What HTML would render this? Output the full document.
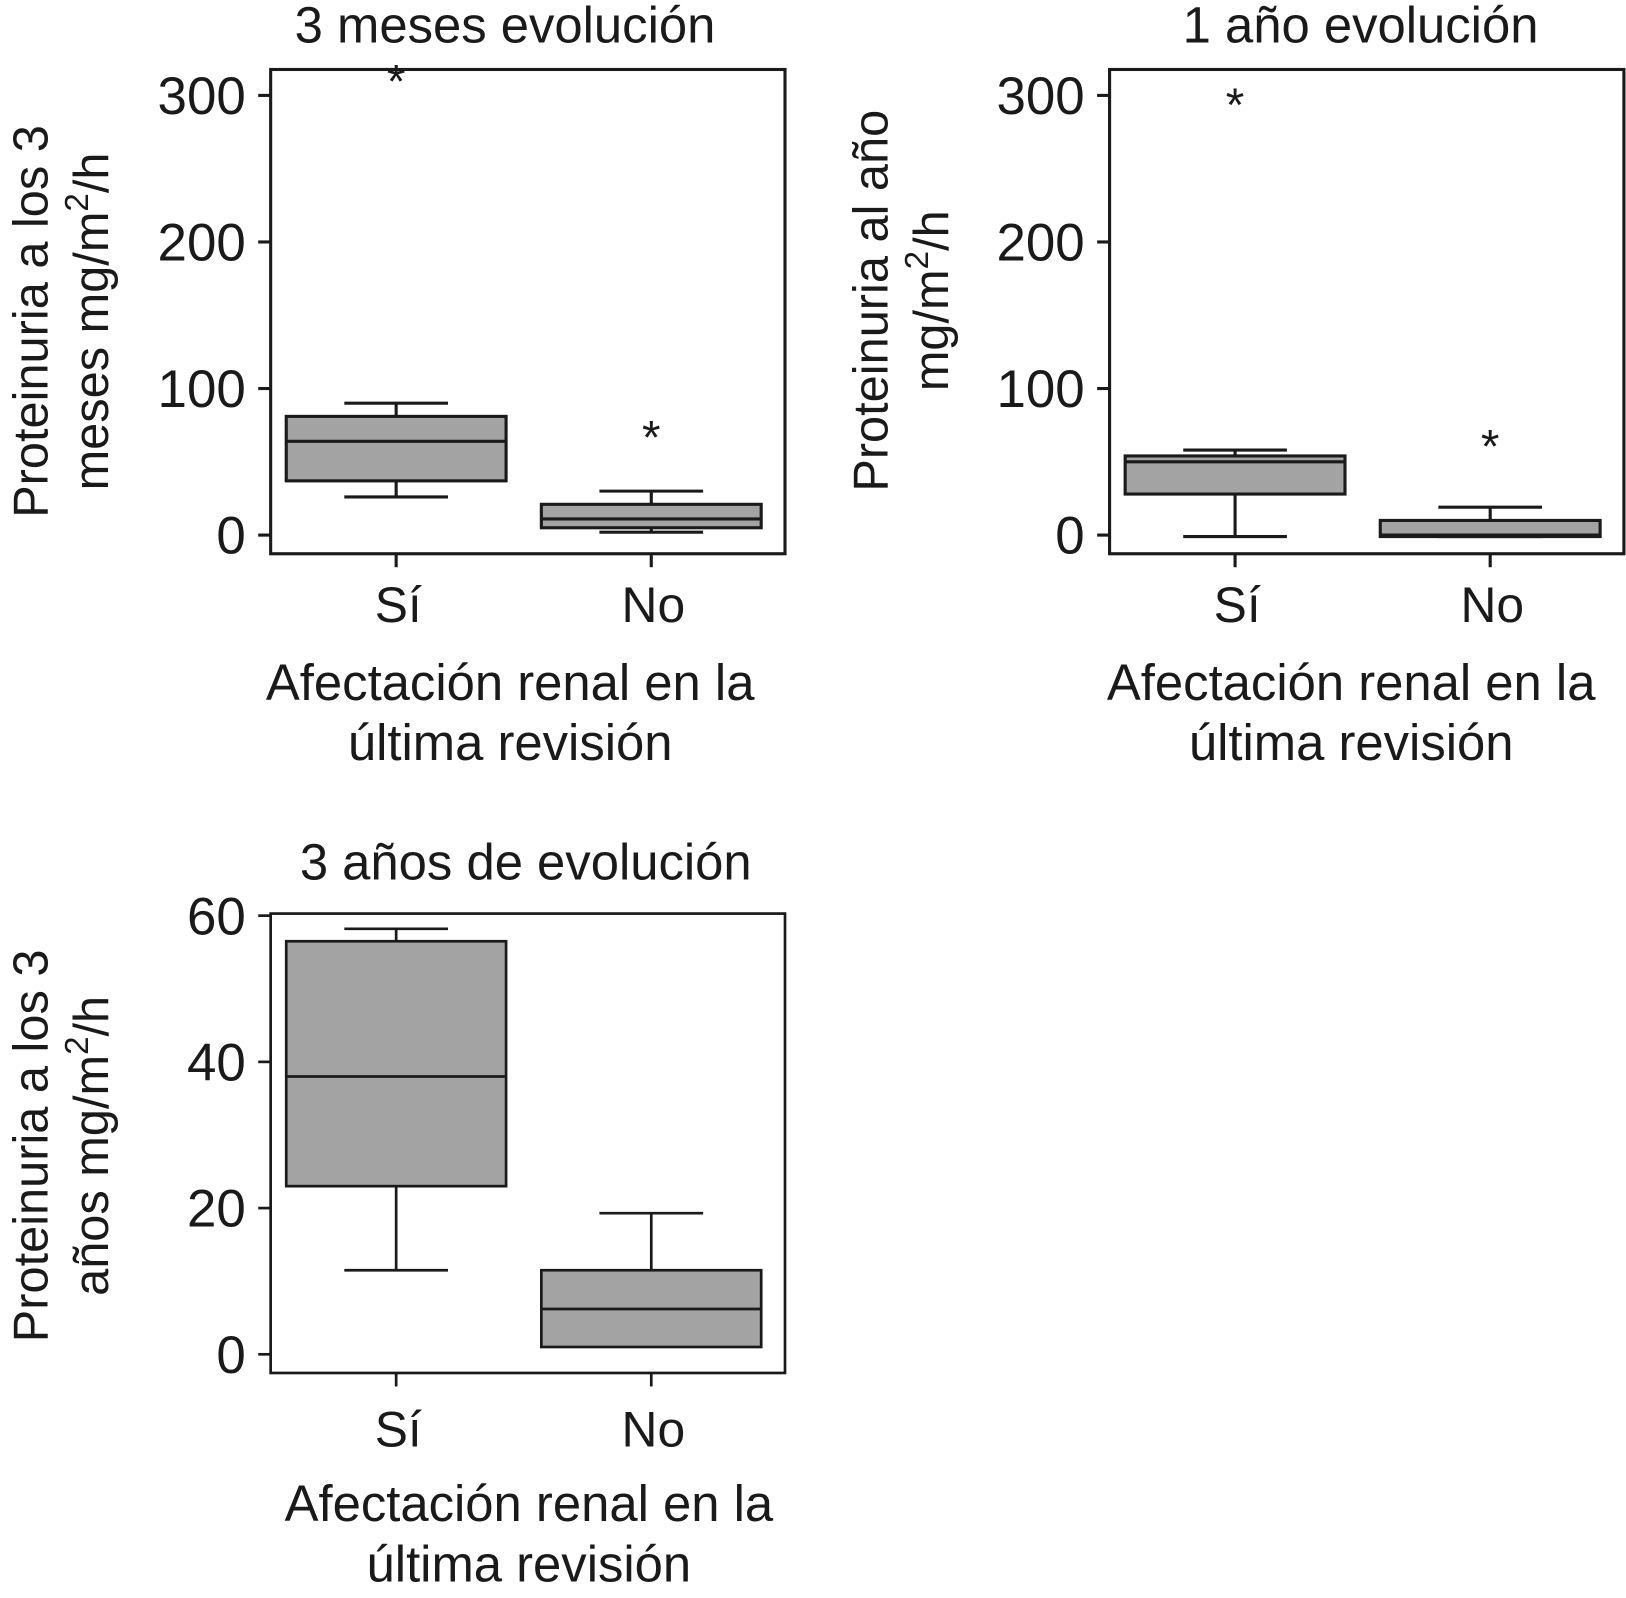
<!DOCTYPE html>
<html><head><meta charset="utf-8"><style>html,body{margin:0;padding:0;background:#fff}svg{display:block}text{font-family:"Liberation Sans",Arial,sans-serif;fill:#1a1a1a}</style></head>
<body>
<svg id="fig" width="1626" height="1598" viewBox="0 0 1568 1541" preserveAspectRatio="none" xmlns="http://www.w3.org/2000/svg"></svg>
<script>
// Data
const categories = ["Sí", "No"];
const p1Whisk = [[26, 90], [2, 30]];
const p1Box = [[37, 64, 81], [5, 11, 21]];
const p1Out = [[317], [74]];
const p2Whisk = [[-1, 58], [-1, 19]];
const p2Box = [[28, 50, 54], [-1, 0, 10]];
const p2Out = [[301], [68]];
const p3Whisk = [[11.5, 58.2], [1.2, 19.3]];
const p3Box = [[23, 38, 56.5], [1, 6.2, 11.5]];
const p3Out = [[], []];
const ticks12 = [0, 100, 200, 300];
const ticks3 = [0, 20, 40, 60];

const NS = "http://www.w3.org/2000/svg";
const svg = document.getElementById("fig");
function el(tag, attrs, parent) {
  const e = document.createElementNS(NS, tag);
  for (const k in attrs) e.setAttribute(k, attrs[k]);
  (parent || svg).appendChild(e);
  return e;
}
function panel(cfg) {
  const g = el("g", {});
  
  
  const {x0, x1, y0, y1, v0, v1, py0, py1} = cfg;
  const ys = v => py0 + (v - v0) * (py1 - py0) / (v1 - v0);
  const xs = [x0 + (x1 - x0) * 0.244, x0 + (x1 - x0) * 0.74];
  const sw = cfg.sw;
  const frame = el("rect", {x: x0, y: y0, width: x1 - x0, height: y1 - y0, fill: "none", stroke: "#1a1a1a", "stroke-width": sw}, g);
  
  
  cfg.ticks.forEach(t => {
    const y = ys(t);
    const tl = el("line", {x1: x0 - 12, x2: x0, y1: y, y2: y, stroke: "#1a1a1a", "stroke-width": sw}, g);
    
    
    const tx = el("text", {x: x0 - 24, y: y + 18, "text-anchor": "end", "font-size": 51}, g);
    tx.textContent = t;
    
    
  });
  categories.forEach((c, i) => {
    const cx = xs[i];
    const xt = el("line", {x1: cx, x2: cx, y1: y1, y2: y1 + 13, stroke: "#1a1a1a", "stroke-width": sw}, g);
    
    
    const lb = el("text", {x: cx + 2, y: cfg.catY, "text-anchor": "middle", "font-size": 48}, g);
    lb.textContent = c;
    
    
    const [lo, hi] = cfg.whisk[i];
    const [q1, med, q3] = cfg.box[i];
    const bw = 106, cw = 50;
    const w1 = el("line", {x1: cx, x2: cx, y1: ys(hi), y2: ys(q3), stroke: "#1a1a1a", "stroke-width": sw}, g);
    
    
    const w2 = el("line", {x1: cx, x2: cx, y1: ys(q1), y2: ys(lo), stroke: "#1a1a1a", "stroke-width": sw}, g);
    
    
    const c1 = el("line", {x1: cx - cw, x2: cx + cw, y1: ys(hi), y2: ys(hi), stroke: "#1a1a1a", "stroke-width": sw}, g);
    
    
    const c2 = el("line", {x1: cx - cw, x2: cx + cw, y1: ys(lo), y2: ys(lo), stroke: "#1a1a1a", "stroke-width": sw}, g);
    
    
    const b = el("rect", {x: cx - bw, y: ys(q3), width: 2 * bw, height: ys(q1) - ys(q3), fill: "#a3a3a3", stroke: "#1a1a1a", "stroke-width": sw}, g);
    
    
    const m = el("line", {x1: cx - bw, x2: cx + bw, y1: ys(med), y2: ys(med), stroke: "#1a1a1a", "stroke-width": sw}, g);
    
    
    cfg.out[i].forEach(o => {
      const s = el("text", {x: cx, y: ys(o) + 26, "text-anchor": "middle", "font-size": 46}, g);
      s.textContent = "*";
      
      
    });
  });
  const t = el("text", {x: cfg.titleX, y: cfg.titleY, "text-anchor": "middle", "font-size": 49}, g);
  t.textContent = cfg.title;
  
  
  cfg.xlab.forEach((line, k) => {
    const xl = el("text", {x: cfg.xlabX, y: cfg.xlabY + k * 58, "text-anchor": "middle", "font-size": 49}, g);
    xl.textContent = line;
    
    
  });
  cfg.ylab.forEach((line, k) => {
    const yl = el("text", {transform: `translate(${cfg.ylabX[k]},${cfg.ylabY}) rotate(-90)`, "text-anchor": "middle", "font-size": 47}, g);
    yl.innerHTML = line;
    
    
  });
}
const sup = 'mg/m<tspan dy="-19" font-size="32">2</tspan><tspan dy="19">/h</tspan>';
panel({name: "panel-3-meses", x0: 261, x1: 757, y0: 67, y1: 534, v0: 0, v1: 300, py0: 516, py1: 92, sw: 3,
  ticks: ticks12, whisk: p1Whisk, box: p1Box, out: p1Out, catY: 600,
  title: "3 meses evolución", titleX: 487, titleY: 41,
  xlab: ["Afectación renal en la", "última revisión"], xlabX: 492, xlabY: 675,
  ylab: ["Proteinuria a los 3", "meses " + sup], ylabX: [46, 104], ylabY: 310});
panel({name: "panel-1-ano", x0: 1070, x1: 1566, y0: 67, y1: 534, v0: 0, v1: 300, py0: 516, py1: 92, sw: 3,
  ticks: ticks12, whisk: p2Whisk, box: p2Box, out: p2Out, catY: 600,
  title: "1 año evolución", titleX: 1312, titleY: 41,
  xlab: ["Afectación renal en la", "última revisión"], xlabX: 1303, xlabY: 675,
  ylab: ["Proteinuria al año", sup], ylabX: [856, 914], ylabY: 290});
panel({name: "panel-3-anos", x0: 261, x1: 757, y0: 881, y1: 1324, v0: 0, v1: 60, py0: 1306, py1: 883, sw: 2.6,
  ticks: ticks3, whisk: p3Whisk, box: p3Box, out: p3Out, catY: 1395,
  title: "3 años de evolución", titleX: 507, titleY: 848,
  xlab: ["Afectación renal en la", "última revisión"], xlabX: 510, xlabY: 1467,
  ylab: ["Proteinuria a los 3", "años " + sup], ylabX: [46, 104], ylabY: 1105});
</script>
</body></html>
